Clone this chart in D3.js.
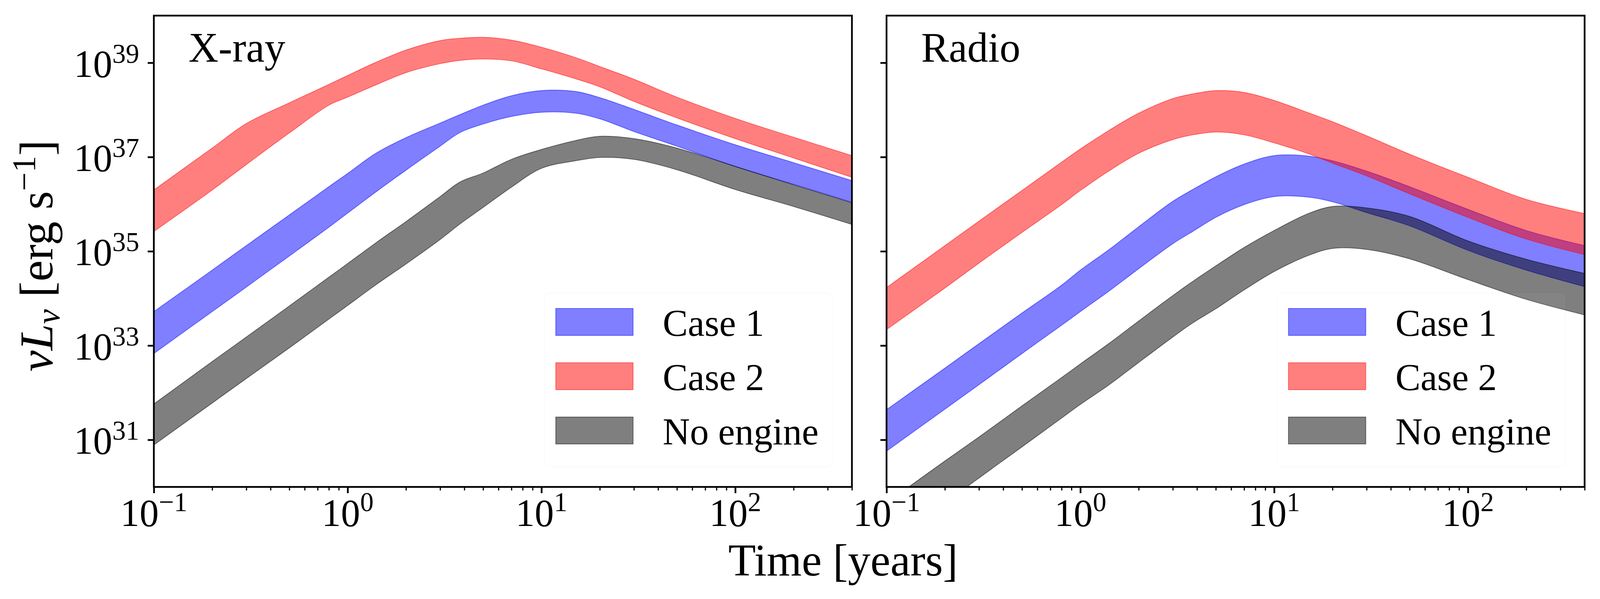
<!DOCTYPE html>
<html>
<head>
<meta charset="utf-8">
<script src="https://cdn.jsdelivr.net/npm/d3@7"></script>
<style>
  html, body { margin: 0; padding: 0; overflow: hidden; background: #fff; }
  svg { display: block; width: 100vw; height: 100vh; }
  text { font-family: "Liberation Serif", "DejaVu Serif", serif; fill: #000; }
</style>
</head>
<body>
<svg id="chart"></svg>
<script>
// sample times in years (shared by every band)
const timeYears = [0.1, 0.2, 0.3, 0.5, 0.8, 1, 1.4, 2, 3, 3.8, 5, 7, 10, 15, 20, 30, 50, 100, 200, 400]

// log10 of nu L_nu [erg/s]
const xrayCase1Upper = [33.72, 34.60, 35.12, 35.77, 36.37, 36.65, 37.08, 37.41, 37.72, 37.90, 38.10, 38.30, 38.41, 38.39, 38.26, 38.01, 37.68, 37.26, 36.88, 36.50]
const xrayCase1Lower = [32.83, 33.72, 34.24, 34.90, 35.51, 35.81, 36.26, 36.72, 37.23, 37.52, 37.70, 37.86, 37.95, 37.93, 37.81, 37.54, 37.23, 36.80, 36.42, 36.04]
const xrayCase2Upper = [36.30, 37.19, 37.71, 38.15, 38.54, 38.73, 39.01, 39.27, 39.47, 39.52, 39.54, 39.48, 39.33, 39.11, 38.92, 38.65, 38.27, 37.82, 37.42, 37.03]
const xrayCase2Lower = [35.42, 36.30, 36.84, 37.51, 38.10, 38.27, 38.53, 38.79, 38.98, 39.05, 39.08, 39.04, 38.87, 38.66, 38.49, 38.18, 37.83, 37.39, 36.98, 36.57]
const xrayNoEngineUpper = [31.76, 32.66, 33.18, 33.84, 34.45, 34.74, 35.18, 35.63, 36.16, 36.47, 36.66, 36.95, 37.16, 37.35, 37.44, 37.39, 37.19, 36.80, 36.41, 36.03]
const xrayNoEngineLower = [30.89, 31.78, 32.30, 32.95, 33.56, 33.85, 34.29, 34.73, 35.25, 35.58, 35.93, 36.36, 36.76, 36.92, 36.99, 36.95, 36.73, 36.31, 35.95, 35.57]

const radioCase1Upper = [31.64, 32.52, 33.04, 33.69, 34.28, 34.60, 35.03, 35.52, 36.06, 36.31, 36.58, 36.85, 37.03, 37.02, 36.92, 36.70, 36.37, 35.89, 35.44, 35.12]
const radioCase1Lower = [30.76, 31.65, 32.17, 32.83, 33.43, 33.72, 34.15, 34.63, 35.16, 35.42, 35.72, 35.99, 36.16, 36.15, 36.05, 35.82, 35.54, 35.02, 34.60, 34.25]
const radioCase2Upper = [34.23, 35.12, 35.64, 36.29, 36.89, 37.17, 37.56, 37.93, 38.24, 38.34, 38.41, 38.37, 38.20, 37.94, 37.75, 37.45, 37.06, 36.57, 36.10, 35.80]
const radioCase2Lower = [33.34, 34.22, 34.75, 35.40, 35.99, 36.29, 36.70, 37.08, 37.37, 37.47, 37.53, 37.47, 37.30, 37.07, 36.87, 36.60, 36.22, 35.72, 35.26, 34.93]
const radioNoEngineUpper = [29.66, 30.55, 31.06, 31.72, 32.32, 32.61, 33.04, 33.52, 34.06, 34.36, 34.69, 35.08, 35.44, 35.80, 35.95, 35.92, 35.74, 35.22, 34.83, 34.53]
const radioNoEngineLower = [28.75, 29.66, 30.19, 30.85, 31.46, 31.75, 32.16, 32.64, 33.18, 33.48, 33.78, 34.18, 34.57, 34.91, 35.06, 35.04, 34.84, 34.40, 33.98, 33.65]

const seriesNames = ['Case 1', 'Case 2', 'No engine']
const seriesColors = ['blue', 'red', 'black']
const panelTitles = ['X-ray', 'Radio']
const xTicks = [0.1, 1, 10, 100]
const yTicks = [1e31, 1e33, 1e35, 1e37, 1e39]

const width = 4160
const height = 1534
const plot = { top: 40, w: 1815, h: 1207 }
const panelLeft = [400, 2305]

const panels = [
  { title: panelTitles[0], left: panelLeft[0], yLabels: true,
    bands: [[xrayCase1Lower, xrayCase1Upper], [xrayCase2Lower, xrayCase2Upper], [xrayNoEngineLower, xrayNoEngineUpper]] },
  { title: panelTitles[1], left: panelLeft[1], yLabels: false,
    bands: [[radioCase1Lower, radioCase1Upper], [radioCase2Lower, radioCase2Upper], [radioNoEngineLower, radioNoEngineUpper]] }
]

// scale with the viewport so the whole figure is always in the shot
const svg = d3.select('#chart')
  .attr('viewBox', [0, 0, width, height])
  .attr('preserveAspectRatio', 'none')

svg.append('rect').attr('width', width).attr('height', height).attr('fill', '#fff')

const x = d3.scaleLog().domain([0.1, 400]).range([0, plot.w])
const y = d3.scaleLog().domain([1e30, 1e40]).range([plot.h, 0])

const minorX = []
for (let e = -1; e <= 2; e++) {
  for (let m = 2; m <= 9; m++) {
    const v = m * Math.pow(10, e)
    if (v <= 400) minorX.push(v)
  }
}

const expo = d => String(Math.round(Math.log10(d))).replace('-', '\u2212')

const area = d3.area()
  .x(d => x(d.t))
  .y0(d => y(d.lo))
  .y1(d => y(d.hi))
  .curve(d3.curveCatmullRom.alpha(0.5))

panels.forEach((p, pi) => {
  const g = svg.append('g').attr('transform', `translate(${p.left},${plot.top})`)

  const clipId = `clip${pi}`
  g.append('clipPath').attr('id', clipId)
    .append('rect').attr('width', plot.w).attr('height', plot.h)

  const bands = g.append('g').attr('clip-path', `url(#${clipId})`)
  p.bands.forEach(([lo, hi], si) => {
    const rows = timeYears.map((t, i) => ({ t, lo: Math.pow(10, lo[i]), hi: Math.pow(10, hi[i]) }))
    bands.append('path')
      .datum(rows)
      .attr('d', area)
      .attr('fill', seriesColors[si])
      .attr('fill-opacity', 0.5)
      .attr('stroke', seriesColors[si])
      .attr('stroke-opacity', 0.5)
      .attr('stroke-width', 2)
  })

  // x axis: minor then major ticks
  g.append('g')
    .attr('transform', `translate(0,${plot.h})`)
    .call(d3.axisBottom(x).tickValues(minorX).tickSize(9).tickFormat(''))
    .call(a => a.select('.domain').remove())
    .call(a => a.selectAll('line').attr('stroke-width', 3))
  g.append('g')
    .attr('transform', `translate(0,${plot.h})`)
    .call(d3.axisBottom(x).tickValues(xTicks).tickSize(16).tickFormat(''))
    .call(a => a.select('.domain').remove())
    .call(a => a.selectAll('line').attr('stroke-width', 4.5))

  xTicks.forEach(v => {
    const t = g.append('text')
      .attr('x', x(v))
      .attr('y', plot.h + 100)
      .attr('text-anchor', 'middle')
      .attr('font-size', 100)
      .text('10')
    t.append('tspan').attr('dy', -38).attr('font-size', 70).text(expo(v))
  })

  // y axis
  g.append('g')
    .call(d3.axisLeft(y).tickValues(yTicks).tickSize(16).tickFormat(''))
    .call(a => a.select('.domain').remove())
    .call(a => a.selectAll('line').attr('stroke-width', 4.5))

  if (p.yLabels) {
    yTicks.forEach(v => {
      const t = g.append('text')
        .attr('x', -38)
        .attr('y', y(v) + 36)
        .attr('text-anchor', 'end')
        .attr('font-size', 100)
        .text('10')
      t.append('tspan').attr('dy', -36).attr('font-size', 70).text(expo(v))
    })
  }

  g.append('text')
    .attr('x', 90)
    .attr('y', 118)
    .attr('font-size', 108)
    .text(p.title)

  // legend, nearly transparent frame
  const leg = g.append('g').attr('transform', 'translate(1045,750)')
  leg.append('rect')
    .attr('x', -30).attr('y', -40)
    .attr('width', 750).attr('height', 445)
    .attr('rx', 14)
    .attr('fill', '#fff')
    .attr('fill-opacity', 0.04)
    .attr('stroke', '#000')
    .attr('stroke-opacity', 0.02)
    .attr('stroke-width', 2)
  seriesNames.forEach((name, si) => {
    const row = leg.append('g').attr('transform', `translate(0,${si * 139})`)
    row.append('rect')
      .attr('width', 201).attr('height', 69)
      .attr('fill', seriesColors[si]).attr('fill-opacity', 0.5)
      .attr('stroke', seriesColors[si]).attr('stroke-opacity', 0.5)
      .attr('stroke-width', 2)
    row.append('text')
      .attr('x', 278)
      .attr('y', 70)
      .attr('font-size', 98)
      .text(name)
  })

  g.append('rect')
    .attr('width', plot.w).attr('height', plot.h)
    .attr('fill', 'none')
    .attr('stroke', '#000')
    .attr('stroke-width', 4.5)
})

// shared axis labels
svg.append('text')
  .attr('x', 2192)
  .attr('y', 1474)
  .attr('text-anchor', 'middle')
  .attr('font-size', 117)
  .text('Time [years]')

const yl = svg.append('text')
  .attr('transform', 'translate(136,655) rotate(-90)')
  .attr('text-anchor', 'middle')
  .attr('font-size', 122)
yl.append('tspan').attr('font-style', 'italic').text('\u03bdL')
yl.append('tspan').attr('font-style', 'italic').attr('font-size', 85).attr('dy', 18).text('\u03bd')
yl.append('tspan').attr('dy', -18).text(' [erg s')
yl.append('tspan').attr('font-size', 85).attr('dy', -45).text('\u22121')
yl.append('tspan').attr('dy', 45).text(']')
</script>
</body>
</html>
